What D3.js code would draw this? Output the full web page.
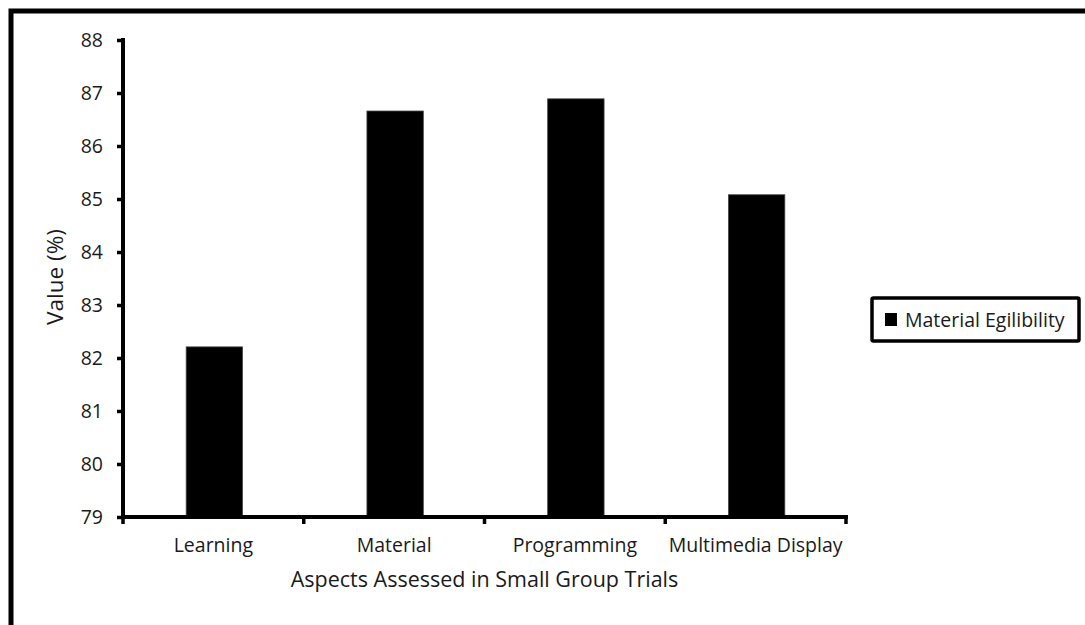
<!DOCTYPE html>
<html>
<head>
<meta charset="utf-8">
<script src="https://cdn.jsdelivr.net/npm/d3@7"></script>
<style>
  html, body { margin: 0; padding: 0; background: #fff; }
  svg { display: block; }
  text { font-family: "Open Sans", "Noto Sans", sans-serif; fill: #1a1a1a; }
</style>
</head>
<body>
<svg id="chart" width="1085" height="625"></svg>
<script>
// Chart data
const categories = ["Learning", "Material", "Programming", "Multimedia Display"];
const values = [82.21, 86.66, 86.89, 85.08];
const yTicks = [79, 80, 81, 82, 83, 84, 85, 86, 87, 88];
const seriesName = "Material Egilibility";
const xTitle = "Aspects Assessed in Small Group Trials";
const yTitle = "Value (%)";

const svg = d3.select("#chart");
const W = 1085, H = 625;
const labelSize = 19.5;

// Plot area
const plotLeft = 123, plotRight = 846, plotTop = 40, plotBottom = 517;

// Outer frame (right and bottom edges fall outside the canvas)
svg.append("rect")
  .attr("x", 11).attr("y", 11)
  .attr("width", W + 20).attr("height", H + 20)
  .attr("fill", "none").attr("stroke", "#000").attr("stroke-width", 5);

const x = d3.scaleBand().domain(categories).range([plotLeft, plotRight]).padding(0);
const y = d3.scaleLinear().domain([79, 88]).range([plotBottom, plotTop]);

const barFrac = 0.312;
const barW = x.bandwidth() * barFrac;

// Bars
svg.append("g").selectAll("rect")
  .data(categories.map((c, i) => ({ c, v: values[i] })))
  .join("rect")
  .attr("x", d => x(d.c) + x.bandwidth() / 2 - barW / 2 + 1)
  .attr("y", d => y(d.v))
  .attr("width", barW)
  .attr("height", d => y(79) - y(d.v))
  .attr("fill", "#000")
  .attr("stroke", "#444").attr("stroke-width", 0.8);

// Y axis
const yAxis = d3.axisLeft(y).tickValues(yTicks).tickSize(6).tickPadding(14).tickFormat(d3.format("d"));
const gy = svg.append("g").attr("transform", `translate(${plotLeft},0)`).call(yAxis);
gy.select(".domain").attr("stroke", "#000").attr("stroke-width", 4)
  .attr("d", `M0,${plotTop - 2}V${plotBottom + 2}`);
gy.selectAll(".tick line").attr("stroke", "#000").attr("stroke-width", 3.5);
gy.selectAll(".tick text").attr("font-size", labelSize).attr("fill", "#1a1a1a")
  .style("font-family", "'Open Sans', sans-serif");

// X axis: ticks sit on category boundaries
const boundaries = categories.map(c => x(c)).concat([plotRight]);
const gx = svg.append("g");
gx.append("line")
  .attr("x1", plotLeft - 2).attr("x2", plotRight + 2)
  .attr("y1", plotBottom).attr("y2", plotBottom)
  .attr("stroke", "#000").attr("stroke-width", 4);
gx.selectAll(".xt").data(boundaries).join("line")
  .attr("class", "xt")
  .attr("x1", d => d).attr("x2", d => d)
  .attr("y1", plotBottom).attr("y2", plotBottom + 7)
  .attr("stroke", "#000").attr("stroke-width", 3.5);
gx.selectAll(".xl").data(categories).join("text")
  .attr("class", "xl")
  .attr("x", d => x(d) + x.bandwidth() / 2)
  .attr("y", plotBottom + 35)
  .attr("text-anchor", "middle")
  .attr("font-size", labelSize)
  .text(d => d);

// Axis titles
svg.append("text")
  .attr("x", (plotLeft + plotRight) / 2)
  .attr("y", 587)
  .attr("text-anchor", "middle")
  .attr("font-size", 21.5)
  .text(xTitle);

svg.append("text")
  .attr("transform", `translate(63,277) rotate(-90)`)
  .attr("text-anchor", "middle")
  .attr("font-size", 22.5)
  .text(yTitle);

// Legend
const lg = svg.append("g");
lg.append("rect")
  .attr("x", 872).attr("y", 298)
  .attr("width", 207).attr("height", 43)
  .attr("fill", "#fff").attr("stroke", "#000").attr("stroke-width", 3.5).attr("rx", 1.5);
lg.append("rect")
  .attr("x", 885).attr("y", 313).attr("width", 12).attr("height", 13).attr("fill", "#000");
lg.append("text")
  .attr("x", 905).attr("y", 327)
  .attr("font-size", labelSize)
  .text(seriesName);
</script>
</body>
</html>
